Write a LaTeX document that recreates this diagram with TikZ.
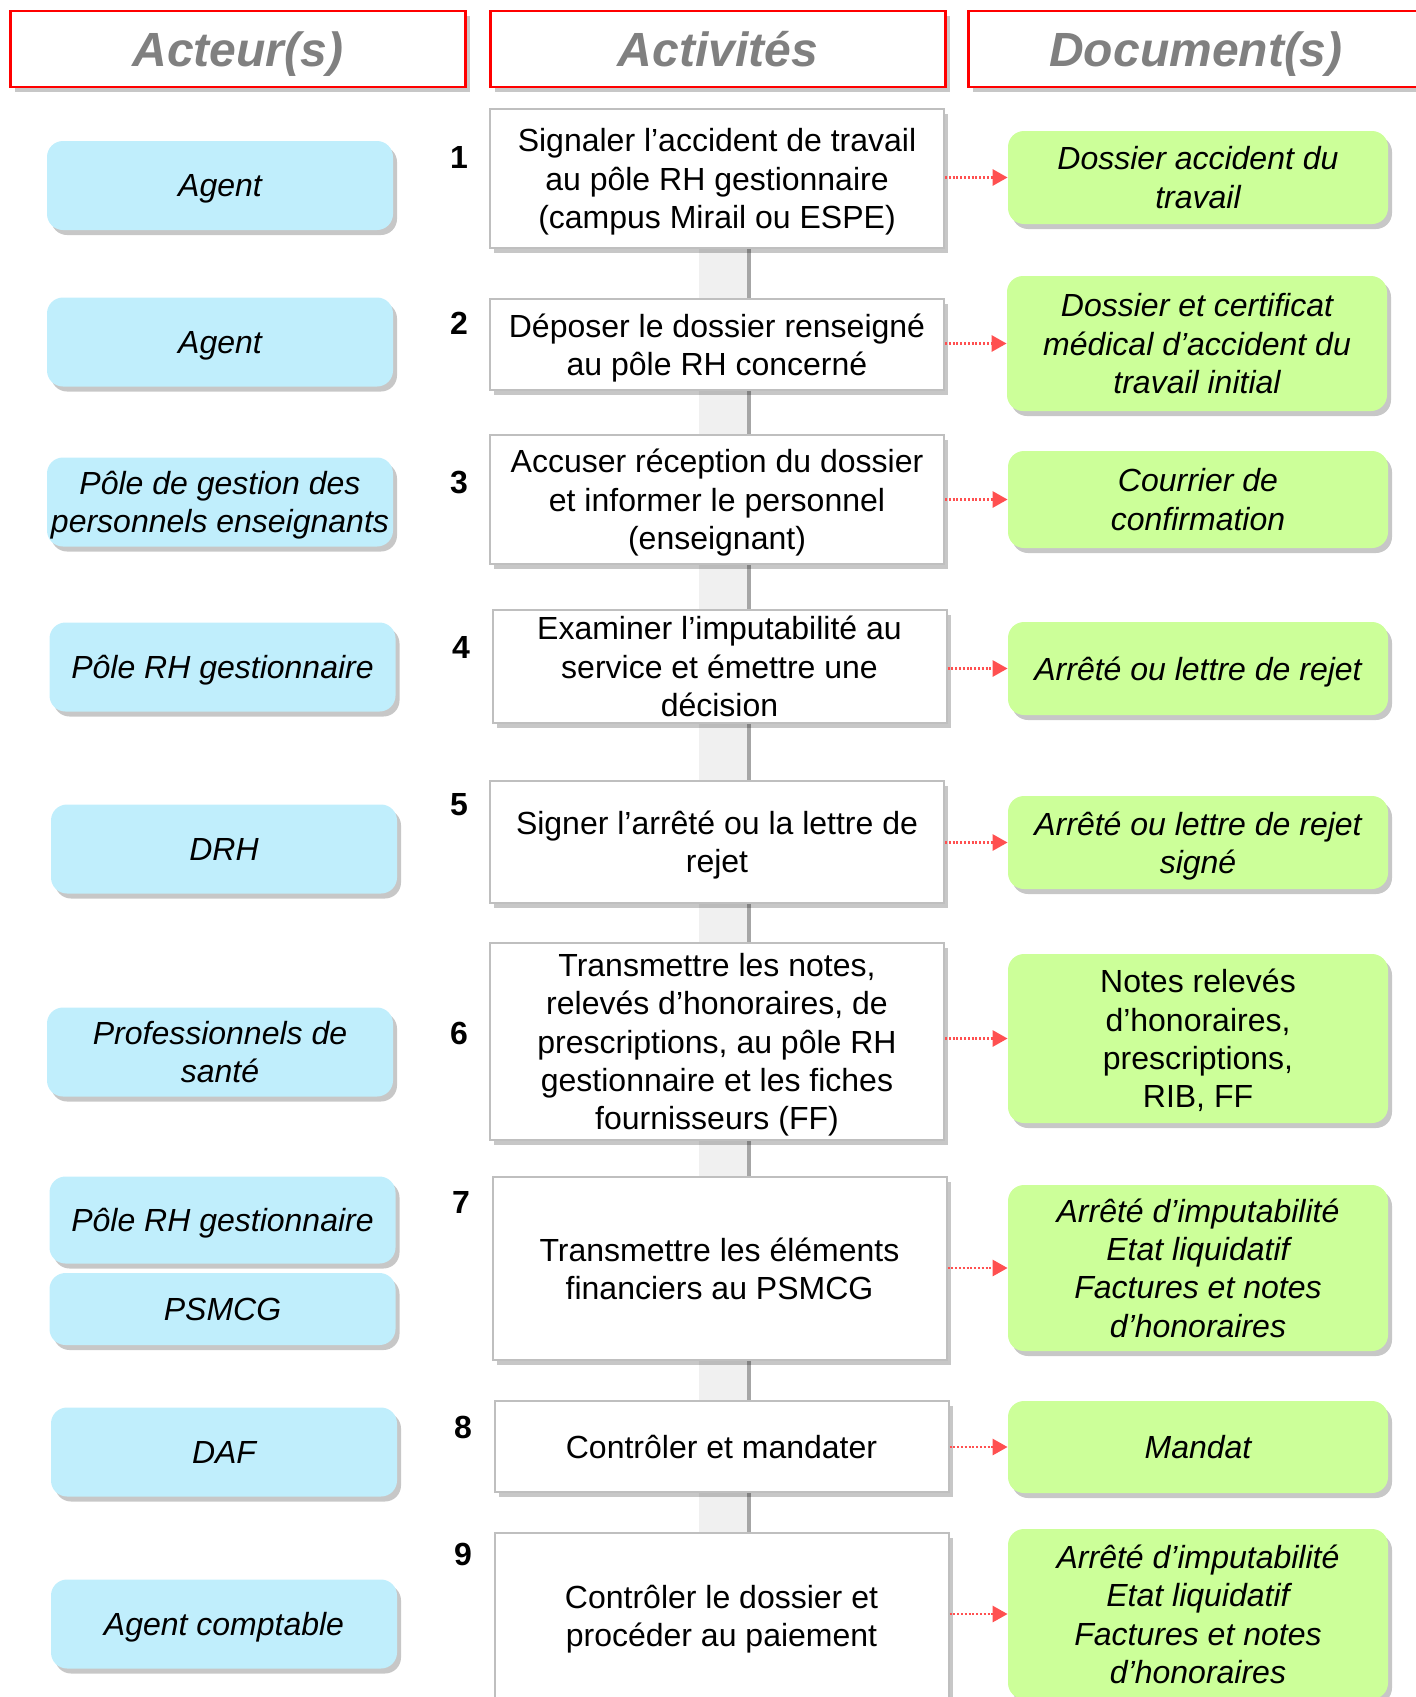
\documentclass[tikz,border=0pt]{standalone}
\usepackage{fontspec}
\setmainfont{Liberation Sans}
\usetikzlibrary{shadows,arrows.meta}
\definecolor{actorfill}{HTML}{C0EEFC}
\definecolor{docfill}{HTML}{CCFF99}
\definecolor{hdrtext}{HTML}{808080}
\definecolor{arrred}{HTML}{FF5050}
\definecolor{actborder}{HTML}{BFBFBF}
\definecolor{bandfill}{HTML}{F0F0F0}
\definecolor{bandline}{HTML}{A6A6A6}
% last line without depth, so that lines sit as in the reference
\newcommand\nd[1]{\raisebox{0pt}[\height][0pt]{#1}}
\begin{document}
\begin{tikzpicture}[x=0.5pt,y=-0.5pt,
  shad/.style={drop shadow={shadow xshift=2pt,shadow yshift=-2.5pt,opacity=0.22,fill=black}},
  body/.style={font=\fontsize{16}{19.2}\selectfont, align=center, inner sep=1pt},
  hdr/.style={draw=red, line width=1.3pt, fill=white, shad, minimum width=227.5pt, minimum height=38pt,
    font=\fontsize{24}{28}\selectfont\bfseries\itshape, text=hdrtext, inner sep=1pt},
  actor/.style={body, fill=actorfill, rounded corners=8pt, shad, minimum width=173pt, minimum height=44.5pt,
    font=\fontsize{16}{19.2}\selectfont\itshape},
  activity/.style={body, draw=actborder, line width=1pt, fill=white, shad, minimum width=227pt},
  doc/.style={body, fill=docfill, rounded corners=8pt, shad, minimum width=190pt,
    font=\fontsize{16}{19.2}\selectfont\itshape},
  docup/.style={doc, font=\fontsize{16}{19.2}\selectfont},
  num/.style={font=\fontsize{16}{19.2}\selectfont\bfseries, inner sep=0pt},
  arr/.style={draw=arrred, line width=1.4pt, dash pattern=on 1pt off 0.9pt, -{Triangle[length=7.5pt,width=8pt]}},
  band/.style={draw=bandfill, line width=24pt},
  bandedge/.style={draw=bandline, line width=2pt}
]
\useasboundingbox (0,0) rectangle (1416,1697);

% central vertical connector (behind the boxes)
\coordinate (bt) at (723,240);
\coordinate (bb) at (723,1540);
\coordinate (et) at (749,240);
\coordinate (eb) at (749,1540);
\draw[band] (bt) -- (bb);
\draw[bandedge] (et) -- (eb);

% headers
\node[hdr] (h1) at (238,49) {\nd{Acteur(s)}};
\node[hdr] (h2) at (718,49) {\nd{Activités}};
\node[hdr] (h3) at (1196,49) {\nd{Document(s)}};

% actors
\node[actor] (p1) at (220,185.5) {\nd{Agent}};
\node[actor] (p2) at (220,342) {\nd{Agent}};
\node[actor] (p3) at (220,502) {Pôle de gestion des\\\nd{personnels enseignants}};
\node[actor] (p4) at (222.5,667) {\nd{Pôle RH gestionnaire}};
\node[actor] (p5) at (224,849) {\nd{DRH}};
\node[actor] (p6) at (220,1052) {Professionnels de\\\nd{santé}};
\node[actor, minimum height=43.5pt] (p7a) at (222.5,1220) {\nd{Pôle RH gestionnaire}};
\node[actor, minimum height=36pt] (p7b) at (222.5,1309) {\nd{PSMCG}};
\node[actor] (p8) at (224,1452) {\nd{DAF}};
\node[actor] (p9) at (224,1624) {\nd{Agent comptable}};

% activities
\node[activity, minimum height=69.5pt] (a1) at (717,178.5) {Signaler l’accident de travail\\au pôle RH gestionnaire\\\nd{(campus Mirail ou ESPE)}};
\node[activity, minimum height=45.5pt] (a2) at (717,344.5) {Déposer le dossier renseigné\\\nd{au pôle RH concerné}};
\node[activity, minimum height=64.5pt] (a3) at (717,499.5) {Accuser réception du dossier\\et informer le personnel\\\nd{(enseignant)}};
\node[activity, minimum height=56.5pt] (a4) at (719.5,666.5) {Examiner l’imputabilité au\\service et émettre une\\\nd{décision}};
\node[activity, minimum height=61pt] (a5) at (717,842) {Signer l’arrêté ou la lettre de\\\nd{rejet}};
\node[activity, minimum height=98.5pt] (a6) at (717,1041.5) {Transmettre les notes,\\relevés d’honoraires, de\\prescriptions, au pôle RH\\gestionnaire et les fiches\\\nd{fournisseurs (FF)}};
\node[activity, minimum height=91.5pt] (a7) at (719.5,1268.5) {Transmettre les éléments\\\nd{financiers au PSMCG}};
\node[activity, minimum height=45.5pt] (a8) at (721.5,1446.5) {\nd{Contrôler et mandater}};
\node[activity, minimum height=83pt] (a9) at (721.5,1616) {Contrôler le dossier et\\\nd{procéder au paiement}};

% step numbers
\node[num] (n1) at (459,157) {1};
\node[num] (n2) at (459,323) {2};
\node[num] (n3) at (459,483) {3};
\node[num] (n4) at (461,647) {4};
\node[num] (n5) at (459,805) {5};
\node[num] (n6) at (459,1033) {6};
\node[num] (n7) at (461,1202) {7};
\node[num] (n8) at (463,1427) {8};
\node[num] (n9) at (463,1554) {9};

% documents
\node[doc, minimum height=46.5pt] (d1) at (1198,177.5) {Dossier accident du\\\nd{travail}};
\node[doc, minimum height=67.5pt] (d2) at (1197,343.5) {Dossier et certificat\\médical d’accident du\\\nd{travail initial}};
\node[doc, minimum height=48.5pt] (d3) at (1198,499.5) {Courrier de\\\nd{confirmation}};
\node[doc, minimum height=46.5pt] (d4) at (1198,668.5) {\nd{Arrêté ou lettre de rejet}};
\node[doc, minimum height=46.5pt] (d5) at (1198,842.5) {Arrêté ou lettre de rejet\\\nd{signé}};
\node[docup, minimum height=84.5pt] (d6) at (1198,1038.5) {Notes relevés\\d’honoraires,\\prescriptions,\\\nd{RIB, FF}};
\node[doc, minimum height=83pt] (d7) at (1198,1268) {Arrêté d’imputabilité\\Etat liquidatif\\Factures et notes\\\nd{d’honoraires}};
\node[doc, minimum height=46pt] (d8) at (1198,1447) {\nd{Mandat}};
\node[doc, minimum height=85pt] (d9) at (1198,1614) {Arrêté d’imputabilité\\Etat liquidatif\\Factures et notes\\\nd{d’honoraires}};

% arrows activity -> document
\foreach \i in {1,...,9}{
  \draw[arr] (a\i.east |- d\i.west) -- (d\i.west);
}
\end{tikzpicture}
\end{document}
